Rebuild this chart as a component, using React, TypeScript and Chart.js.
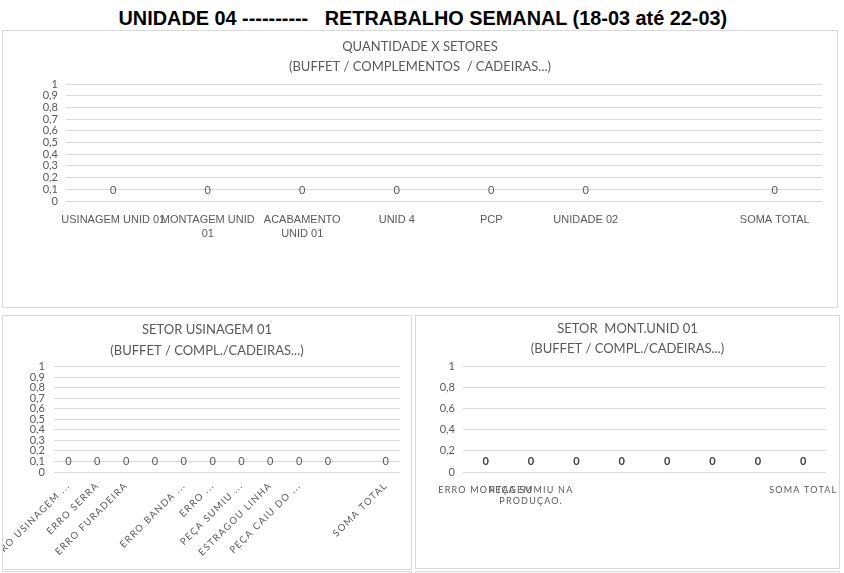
import React, { useEffect, useRef } from 'react';
import { Chart, registerables } from 'chart.js';

Chart.register(...registerables);

const PAGE_TITLE = 'UNIDADE 04 ----------   RETRABALHO SEMANAL (18-03 até 22-03)';

const SETORES_TITLE = ['QUANTIDADE X SETORES', '(BUFFET / COMPLEMENTOS  / CADEIRAS...)'];
const SETORES_CATEGORIES = [
  ['USINAGEM UNID 01'],
  ['MONTAGEM UNID', '01'],
  ['ACABAMENTO', 'UNID 01'],
  ['UNID 4'],
  ['PCP'],
  ['UNIDADE 02'],
  [''],
  ['SOMA TOTAL'],
];
const SETORES_VALUES = [0, 0, 0, 0, 0, 0, null, 0];

const USINAGEM_TITLE = ['SETOR USINAGEM 01', '(BUFFET / COMPL./CADEIRAS...)'];
const USINAGEM_CATEGORIES = [
  'ERRO USINAGEM ...',
  'ERRO SERRA',
  'ERRO FURADEIRA',
  '',
  'ERRO BANDA ...',
  'ERRO ...',
  'PEÇA SUMIU ...',
  'ESTRAGOU LINHA',
  'PEÇA CAIU DO ...',
  '',
  '',
  'SOMA TOTAL',
];
const USINAGEM_VALUES = [0, 0, 0, 0, 0, 0, 0, 0, 0, 0, null, 0];

const MONTAGEM_TITLE = ['SETOR  MONT.UNID 01', '(BUFFET / COMPL./CADEIRAS...)'];
const MONTAGEM_CATEGORIES = [
  ['ERRO MONTAGEM'],
  ['PEÇA SUMIU NA', 'PRODUÇAO.'],
  [''],
  [''],
  [''],
  [''],
  [''],
  ['SOMA TOTAL'],
];
const MONTAGEM_VALUES = [0, 0, 0, 0, 0, 0, 0, 0];

const TENTHS_TICKS = [0, 0.1, 0.2, 0.3, 0.4, 0.5, 0.6, 0.7, 0.8, 0.9, 1];
const TENTHS_TICK_LABELS = ['0', '0,1', '0,2', '0,3', '0,4', '0,5', '0,6', '0,7', '0,8', '0,9', '1'];
const FIFTHS_TICKS = [0, 0.2, 0.4, 0.6, 0.8, 1];
const FIFTHS_TICK_LABELS = ['0', '0,2', '0,4', '0,6', '0,8', '1'];

type Cfg = {
  title: string[];
  categories: (string | string[])[];
  values: (number | null)[];
  ticks: number[];
  tickLabels: string[];
  titleSize: number;
  titleLH: number;
  titlePadTop: number;
  titlePadBottom: number;
  yWidth: number;
  yPad: number;
  ySize: number;
  rightPad: number;
  xHeight: number;
  xPad: number;
  xFamily: string;
  xSize: number;
  xLH: number;
  xSpacing: number;
  xColor: string;
  rotation: number;
  labelColor: string;
  labelWeight: string;
  labelSize: number;
  labelOffset: number;
};

function BarPanel({ left, top, width, height, cfg }: { left: number; top: number; width: number; height: number; cfg: Cfg }) {
  const ref = useRef<HTMLCanvasElement | null>(null);
  const cw = width - 2;
  const ch = height - 2;
  useEffect(() => {
    const canvas = ref.current;
    if (!canvas) return;
    const labelsPlugin = {
      id: 'valueLabels',
      afterDatasetsDraw(chart: any) {
        const ctx = chart.ctx;
        const meta = chart.getDatasetMeta(0);
        const vals = chart.data.datasets[0].data;
        ctx.save();
        ctx.font = `${cfg.labelWeight} ${cfg.labelSize}px Lato`;
        ctx.fillStyle = cfg.labelColor;
        ctx.textAlign = 'center';
        ctx.textBaseline = 'middle';
        meta.data.forEach((el: any, i: number) => {
          const v = vals[i];
          if (v === null || v === undefined) return;
          ctx.fillText(String(v).replace('.', ','), el.x, el.y - cfg.labelOffset);
        });
        ctx.restore();
        if (cfg.xSpacing) (ctx as any).letterSpacing = `${cfg.xSpacing}px`;
      },
      afterDraw(chart: any) {
        (chart.ctx as any).letterSpacing = '0px';
      },
    };
    const chart = new Chart(canvas, {
      type: 'bar',
      data: {
        labels: cfg.categories as any,
        datasets: [
          {
            data: cfg.values as any,
            backgroundColor: '#4472c4',
            borderWidth: 0,
          },
        ],
      },
      options: {
        animation: false,
        responsive: false,
        devicePixelRatio: 1,
        layout: { padding: 0 },
        plugins: {
          legend: { display: false },
          tooltip: { enabled: false },
          title: {
            display: true,
            text: cfg.title,
            color: '#595959',
            font: { family: 'Lato', size: cfg.titleSize, weight: 'normal', lineHeight: cfg.titleLH / cfg.titleSize },
            padding: { top: cfg.titlePadTop, bottom: cfg.titlePadBottom },
          },
        },
        scales: {
          x: {
            type: 'category',
            grid: { display: false, drawTicks: false },
            border: { display: false },
            ticks: {
              autoSkip: false,
              maxRotation: cfg.rotation,
              minRotation: cfg.rotation,
              padding: cfg.xPad,
              color: cfg.xColor,
              font: { family: cfg.xFamily, size: cfg.xSize, lineHeight: cfg.xLH / cfg.xSize },
              z: 1,
            },
            afterFit: (s: any) => {
              s.height = cfg.xHeight;
              s.paddingLeft = 0;
              s.paddingRight = 0;
            },
          },
          y: {
            min: 0,
            max: 1,
            grid: { color: '#d9d9d9', drawTicks: false, lineWidth: 1 },
            border: { display: false },
            ticks: {
              autoSkip: false,
              padding: cfg.yPad,
              color: '#595959',
              font: { family: 'Lato', size: cfg.ySize },
              callback: (_v: any, i: number) => cfg.tickLabels[i],
            },
            afterBuildTicks: (s: any) => {
              s.ticks = cfg.ticks.map((value) => ({ value }));
            },
            afterFit: (s: any) => {
              s.width = cfg.yWidth;
            },
          },
          yr: {
            type: 'linear',
            position: 'right',
            display: true,
            grid: { display: false, drawTicks: false },
            border: { display: false },
            ticks: { display: false },
            afterFit: (s: any) => {
              s.width = cfg.rightPad;
            },
          },
        },
      },
      plugins: [labelsPlugin],
    });
    return () => chart.destroy();
  }, []);
  return (
    <div
      style={{
        position: 'absolute',
        left,
        top,
        width,
        height,
        boxSizing: 'border-box',
        border: '1px solid #d9d9d9',
        background: '#fff',
      }}
    >
      <canvas ref={ref} width={cw} height={ch} style={{ display: 'block', width: cw, height: ch }} />
    </div>
  );
}

const topCfg: Cfg = {
  title: SETORES_TITLE,
  categories: SETORES_CATEGORIES,
  values: SETORES_VALUES,
  ticks: TENTHS_TICKS,
  tickLabels: TENTHS_TICK_LABELS,
  titleSize: 13,
  titleLH: 20,
  titlePadTop: 6,
  titlePadBottom: 7,
  yWidth: 63,
  yPad: 8,
  ySize: 11,
  rightPad: 15,
  xHeight: 106,
  xPad: 12,
  xFamily: "'Liberation Sans', Arial, sans-serif",
  xSize: 11,
  xLH: 14,
  xSpacing: 0,
  xColor: '#595959',
  rotation: 0,
  labelColor: '#595959',
  labelWeight: 'normal',
  labelSize: 11,
  labelOffset: 11,
};

const leftCfg: Cfg = {
  title: USINAGEM_TITLE,
  categories: USINAGEM_CATEGORIES,
  values: USINAGEM_VALUES,
  ticks: TENTHS_TICKS,
  tickLabels: TENTHS_TICK_LABELS,
  titleSize: 13,
  titleLH: 21,
  titlePadTop: 3.5,
  titlePadBottom: 5,
  yWidth: 51,
  yPad: 9,
  ySize: 11,
  rightPad: 11,
  xHeight: 97,
  xPad: 8,
  xFamily: 'Lato',
  xSize: 9.5,
  xLH: 11,
  xSpacing: 1.3,
  xColor: '#595959',
  rotation: 45,
  labelColor: '#595959',
  labelWeight: 'normal',
  labelSize: 11,
  labelOffset: 11,
};

const rightCfg: Cfg = {
  title: MONTAGEM_TITLE,
  categories: MONTAGEM_CATEGORIES,
  values: MONTAGEM_VALUES,
  ticks: FIFTHS_TICKS,
  tickLabels: FIFTHS_TICK_LABELS,
  titleSize: 13,
  titleLH: 20,
  titlePadTop: 3,
  titlePadBottom: 7.7,
  yWidth: 47,
  yPad: 8,
  ySize: 11,
  rightPad: 13,
  xHeight: 96,
  xPad: 12,
  xFamily: 'Lato',
  xSize: 9,
  xLH: 11.7,
  xSpacing: 1.2,
  xColor: '#595959',
  rotation: 0,
  labelColor: '#404040',
  labelWeight: 'bold',
  labelSize: 11,
  labelOffset: 10.5,
};

const TITLE_FONT = "bold 21px 'Liberation Sans', Arial, sans-serif";
const TITLE_TARGET_WIDTH = 609;

function titleScale(): number {
  try {
    const c = document.createElement('canvas');
    const ctx = c.getContext('2d');
    if (!ctx) return 0.82;
    ctx.font = TITLE_FONT;
    const w = ctx.measureText(PAGE_TITLE).width;
    return w > 0 ? TITLE_TARGET_WIDTH / w : 0.82;
  } catch (e) {
    return 0.82;
  }
}

export default function App() {
  useEffect(() => {
    document.body.style.margin = '0';
  }, []);
  const k = titleScale();
  return (
    <div
      style={{
        position: 'fixed',
        left: 0,
        top: 0,
        width: 844,
        height: 573,
        background: '#fff',
        overflow: 'hidden',
      }}
    >
      <div
        style={{
          position: 'absolute',
          left: 0,
          top: 5,
          width: 845,
          textAlign: 'center',
          whiteSpace: 'pre',
          lineHeight: '26px',
        }}
      >
        <span
          style={{
            display: 'inline-block',
            font: TITLE_FONT,
            lineHeight: '26px',
            color: '#000',
            whiteSpace: 'pre',
            transform: `scaleX(${k})`,
            transformOrigin: 'center',
          }}
        >
          {PAGE_TITLE}
        </span>
      </div>
      <BarPanel left={2} top={30} width={836} height={278} cfg={topCfg} />
      <BarPanel left={2} top={315} width={410} height={255} cfg={leftCfg} />
      <BarPanel left={415} top={315} width={425} height={254} cfg={rightCfg} />
      <div style={{ position: 'absolute', left: 2, top: 571, width: 410, height: 20, boxSizing: 'border-box', border: '1px solid #d9d9d9' }} />
      <div style={{ position: 'absolute', left: 415, top: 571, width: 425, height: 20, boxSizing: 'border-box', border: '1px solid #d9d9d9' }} />
    </div>
  );
}
